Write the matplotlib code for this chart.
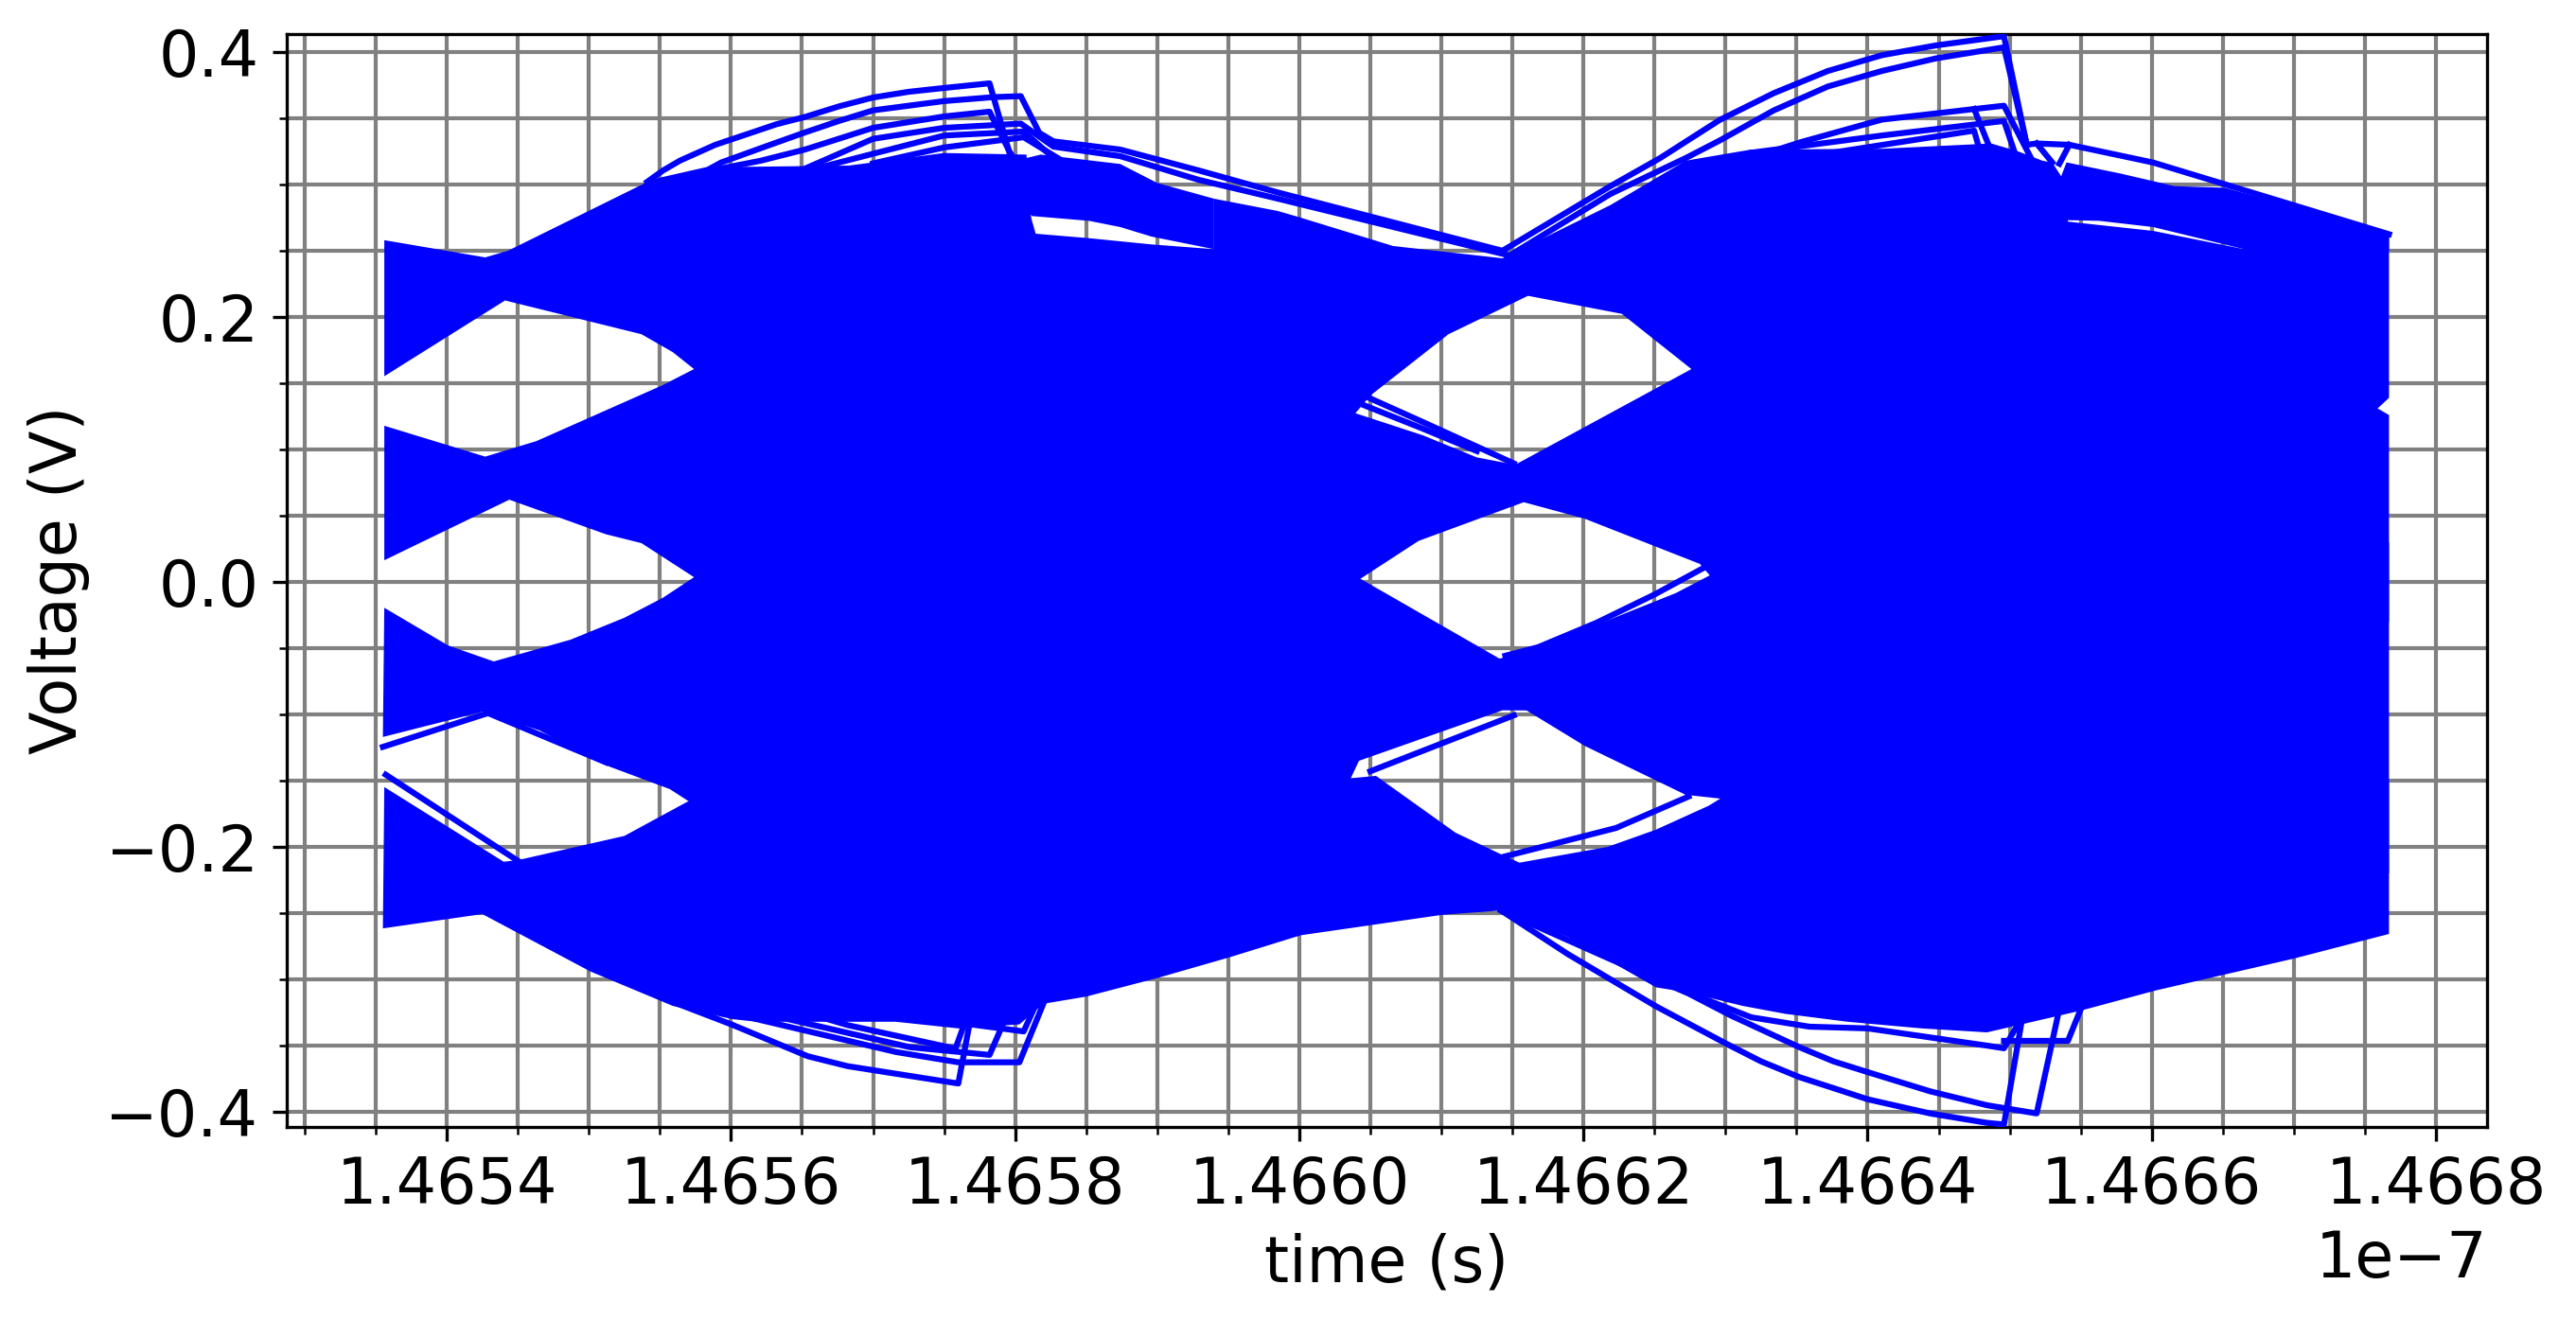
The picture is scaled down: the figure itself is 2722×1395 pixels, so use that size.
"""Eye diagram of a four level signal, rebuilt from values read off the picture."""
import matplotlib
matplotlib.use('Agg')
import numpy as np
import matplotlib.pyplot as plt
from matplotlib.ticker import MultipleLocator

# times are in units of 1e-7 s, voltages in V
band1_t = [1.465356, 1.465427, 1.465443, 1.465545, 1.465582, 1.465659, 1.465683, 1.46575, 1.465808,
           1.465812, 1.465852, 1.465896, 1.46594, 1.46594, 1.465985, 1.466001, 1.466066, 1.466143,
           1.466219, 1.466253, 1.466272, 1.466318, 1.46641, 1.466487, 1.466506,
           1.466523, 1.46653, 1.46654, 1.466541, 1.466601, 1.466665, 1.466665, 1.466767, 1.466767,
           1.466759, 1.466684, 1.466351, 1.466276, 1.466227, 1.466161, 1.466105, 1.46605, 1.466018,
           1.465618, 1.465574, 1.465559, 1.465537, 1.465441, 1.465356]
band1_v = [.258, .245, .25, .304, .313, .314, .3143, .3238, .3226,
           .2631, .2595, .2548, .2512, .2893, .28, .275, .2536, .2443,
           .2845, .306, .318, .3264, .327, .331, .325,
           .318, .3166, .3, .272, .265, .2512, .293, .2625, .139,
           .131, .10, .10, .1607, .2024, .216, .187, .1407, .10,
           .10, .1607, .1735, .187, .2125, .1553]

band2_t = [1.465356, 1.465427, 1.465463, 1.465552, 1.465574, 1.465618, 1.466018, 1.466036, 1.466087,
           1.466125, 1.466152, 1.466276, 1.466317, 1.466684, 1.466759, 1.466767, 1.466767, 1.466317,
           1.466282, 1.466201, 1.466158, 1.466084, 1.466043, 1.466018, 1.465618, 1.465574, 1.465537,
           1.465512, 1.465444, 1.465356]
band2_v = [.1179, .0946, .1063, .1486, .1607, .17, .17, .1286, .1107,
           .094, .0885, .1607, .17, .17, .131, .126, -.03, -.03,
           .0136, .0477, .0602, .031, .0024, -.03, -.03, .0036, .0293,
           .036, .0621, .0164]

band3_t = [1.465356, 1.465401, 1.465433, 1.465487, 1.465525, 1.465552, 1.465574, 1.465618, 1.466018,
           1.466043, 1.466141, 1.466163, 1.466214, 1.466265, 1.466294, 1.466317, 1.466767, 1.466767,
           1.466351, 1.466297, 1.466272, 1.466201, 1.46616, 1.466143, 1.466042, 1.466018, 1.465618,
           1.46557, 1.465557, 1.465512, 1.465465, 1.465425, 1.465355]
band3_v = [-.0195, -.048, -.06, -.0436, -.027, -.012, .0036, .03, .03,
           .0024, -.0579, -.051, -.0303, -.0084, .0078, .03, .03, -.22,
           -.22, -.1636, -.1607, -.1238, -.097, -.0969, -.135, -.19, -.19,
           -.1654, -.1564, -.1384, -.112, -.098, -.117]

band4_t = [1.465356, 1.46544, 1.46545, 1.465525, 1.46557, 1.465618, 1.466018, 1.466054, 1.46611,
           1.466145, 1.466155, 1.466217, 1.466251, 1.466288, 1.466317, 1.466767, 1.466767, 1.4667,
           1.466603, 1.46655, 1.466484, 1.466438, 1.466386, 1.466342, 1.466312, 1.466274, 1.466251,
           1.466189, 1.466142, 1.466101, 1.466001, 1.465951, 1.465901, 1.46585, 1.46582, 1.465803,
           1.46576, 1.465716, 1.465618, 1.465601, 1.465559, 1.465501, 1.465425, 1.465355]
band4_v = [-.1548, -.2112, -.21, -.1917, -.1655, -.15, -.15, -.1464, -.1893,
           -.2071, -.2119, -.2, -.187, -.169, -.15, -.15, -.2657, -.2843,
           -.3083, -.3236, -.34, -.337, -.332, -.326, -.32, -.31, -.306,
           -.268, -.248, -.2512, -.2667, -.2833, -.2987, -.313, -.3184, -.334,
           -.337, -.332, -.332, -.33, -.32, -.294, -.2507, -.2615]

# thicker bundle above the gap after the first peak
bundle1_t = [1.465808, 1.465818, 1.465874, 1.4659, 1.46594, 1.46594, 1.465896, 1.465874, 1.465852, 1.465812, 1.465808]
bundle1_v = [.32, .3226, .3155, .3012, .2893, .2512, .2607, .2679, .2726, .2762, .28]

# same thing after the second peak
bundle2_t = [1.466534, 1.46654, 1.466578, 1.466616, 1.466652, 1.466767, 1.466767, 1.466665, 1.466601, 1.466563, 1.466533]
bundle2_v = [.30, .3167, .3083, .2988, .2975, .2625, .25, .2512, .2679, .2726, .2733]

# peak traces of the first bit
peak_a_t = [1.465541, 1.465552, 1.465564, 1.465589, 1.465614, 1.465632, 1.465652, 1.465676, 1.4657, 1.465725,
            1.46575, 1.465782, 1.465812]
peak_a_v = [.302, .3105, .318, .33, .339, .3455, .351, .359, .3657, .37,
            .3729, .3764, .264]
peak_b_t = [1.465558, 1.465593, 1.465625, 1.465652, 1.465676, 1.4657, 1.46575, 1.465785, 1.465804, 1.465817, 1.465827,
            1.465874, 1.465929, 1.465985, 1.466143]
peak_b_v = [.296, .3166, .329, .3393, .348, .356, .363, .366, .3667, .339, .3326,
            .3264, .3107, .294, .25]
peak_c_t = [1.465578, 1.465621, 1.465652, 1.4657, 1.46575, 1.465782, 1.465796, 1.465823]
peak_c_v = [.309, .318, .3264, .3428, .3514, .355, .325, .28]
peak_d_t = [1.465652, 1.4657, 1.46575, 1.465804, 1.465827, 1.465874, 1.465929, 1.465985, 1.466148]
peak_d_v = [.312, .3345, .3428, .346, .3286, .3214, .3036, .2893, .2464]
peak_e_t = [1.465652, 1.46575, 1.465806, 1.465827]
peak_e_v = [.31, .337, .34, .32]
peak_f_t = [1.4657, 1.46575, 1.465806, 1.46583]
peak_f_v = [.316, .328, .3357, .32]

# peak traces of the second bit
peak_g_t = [1.466143, 1.466219, 1.466254, 1.466296, 1.466334, 1.466372, 1.46641, 1.466448, 1.466496, 1.466512]
peak_g_v = [.25, .2988, .32, .3488, .369, .3857, .3976, .405, .412, .33]
peak_h_t = [1.466148, 1.466219, 1.466272, 1.466296, 1.466334, 1.466372, 1.46641, 1.466448, 1.466496, 1.466512,
            1.466519, 1.466542, 1.466601, 1.466652, 1.466767]
peak_h_v = [.2464, .2929, .32, .3333, .356, .374, .3857, .3952, .4036, .33,
            .331, .33, .3166, .30, .2625]
peak_i_t = [1.466318, 1.466353, 1.46641, 1.466475, 1.466496, 1.466515]
peak_i_v = [.32, .332, .349, .357, .3595, .32]
peak_j_t = [1.466475, 1.466487]
peak_j_v = [.357, .325]
peak_k_t = [1.46629, 1.466318, 1.46641, 1.466496, 1.466508]
peak_k_v = [.316, .324, .337, .348, .31]
peak_l_t = [1.466351, 1.466475, 1.466483]
peak_l_v = [.32, .3407, .31]
peak_m_t = [1.466519, 1.46653]
peak_m_v = [.331, .3166]
peak_n_t = [1.466542, 1.466535]
peak_n_v = [.33, .3157]

# low traces of the first bit
low_a_t = [1.465559, 1.465601, 1.465654, 1.465682, 1.46576, 1.465773]
low_a_v = [-.317, -.3343, -.358, -.3655, -.3786, -.3048]
low_b_t = [1.465618, 1.465716, 1.46576, 1.465803, 1.46582]
low_b_v = [-.33, -.3548, -.3626, -.3626, -.318]
low_c_t = [1.465652, 1.465682, 1.465758, 1.465772]
low_c_v = [-.325, -.3345, -.3523, -.3107]
low_d_t = [1.465769, 1.465806, 1.465815]
low_d_v = [-.334, -.3393, -.318]
low_e_t = [1.46564, 1.465726, 1.465782, 1.465797]
low_e_v = [-.33, -.3512, -.357, -.32]

# low traces of the second bit
low_f_t = [1.466142, 1.466189, 1.466251, 1.466301, 1.466325, 1.466352, 1.466376, 1.4664, 1.466444, 1.466484,
           1.466496, 1.466508]
low_f_v = [-.248, -.2809, -.3203, -.3488, -.3619, -.3738, -.3821, -.3905, -.4012, -.4083,
           -.4095, -.3345]
low_g_t = [1.466142, 1.466251, 1.466274, 1.466304, 1.466352, 1.466376, 1.4664, 1.466444, 1.466484, 1.466519, 1.466534]
low_g_v = [-.248, -.30, -.3107, -.3274, -.3512, -.3619, -.37, -.3845, -.395, -.4012, -.327]
low_h_t = [1.466274, 1.466318, 1.466359, 1.4664, 1.466484, 1.466496, 1.466508]
low_h_v = [-.31, -.3286, -.3357, -.337, -.35, -.352, -.33]
low_i_t = [1.466496, 1.466541, 1.46655]
low_i_v = [-.3464, -.3464, -.3226]

# lines that run alone next to the eye edges
edge_a_t = [1.46605, 1.466087, 1.466151]
edge_a_v = [.1385, .1207, .0895]
edge_b_t = [1.466145, 1.466168, 1.466209, 1.46625, 1.466287]
edge_b_v = [-.0557, -.0493, -.0309, -.0095, .012]
edge_c_t = [1.46605, 1.466151]
edge_c_v = [-.1429, -.1007]
edge_d_t = [1.466145, 1.466223, 1.466274]
edge_d_v = [-.2071, -.1857, -.162]
edge_e_t = [1.465357, 1.46545]
edge_e_v = [-.1455, -.2105]
edge_f_t = [1.465355, 1.465429, 1.465512]
edge_f_v = [-.1245, -.099, -.1362]
edge_g_t = [1.466043, 1.466087, 1.466125]
edge_g_v = [.1345, .1157, .0988]

bands = [(band1_t, band1_v), (band2_t, band2_v), (band3_t, band3_v), (band4_t, band4_v),
         (bundle1_t, bundle1_v), (bundle2_t, bundle2_v)]
traces = [(peak_a_t, peak_a_v), (peak_b_t, peak_b_v), (peak_c_t, peak_c_v), (peak_d_t, peak_d_v),
          (peak_e_t, peak_e_v), (peak_f_t, peak_f_v), (peak_g_t, peak_g_v), (peak_h_t, peak_h_v),
          (peak_i_t, peak_i_v), (peak_j_t, peak_j_v), (peak_k_t, peak_k_v), (peak_l_t, peak_l_v),
          (peak_m_t, peak_m_v), (peak_n_t, peak_n_v),
          (low_a_t, low_a_v), (low_b_t, low_b_v), (low_c_t, low_c_v), (low_d_t, low_d_v), (low_e_t, low_e_v),
          (low_f_t, low_f_v), (low_g_t, low_g_v), (low_h_t, low_h_v), (low_i_t, low_i_v),
          (edge_a_t, edge_a_v), (edge_b_t, edge_b_v), (edge_c_t, edge_c_v),
          (edge_d_t, edge_d_v), (edge_e_t, edge_e_v), (edge_f_t, edge_f_v), (edge_g_t, edge_g_v)]

plt.rcParams['font.size'] = 16

fig = plt.figure(figsize=(2722 / 300, 1395 / 300), dpi=300)
ax = fig.add_axes([302.5 / 2722, 1 - 1190.7 / 1395, (2628 - 302.5) / 2722, (1190.7 - 35.7) / 1395])

for t, v in bands:
    ax.fill(np.array(t) * 1e-7, v, color='b', lw=0, zorder=2)
for t, v in traces:
    ax.plot(np.array(t) * 1e-7, v, color='b', lw=1.5, zorder=3)

ax.set_xlim(1.465287e-7, 1.466836e-7)
ax.set_ylim(-0.4112, 0.4138)
ax.xaxis.set_major_locator(MultipleLocator(2e-11))
ax.xaxis.set_minor_locator(MultipleLocator(5e-12))
ax.yaxis.set_major_locator(MultipleLocator(0.2))
ax.yaxis.set_minor_locator(MultipleLocator(0.05))
ax.grid(True, which='both', color='gray', lw=1)
ax.set_xlabel('time (s)')
ax.set_ylabel('Voltage (V)')

fig.savefig('out.png', dpi=300)
